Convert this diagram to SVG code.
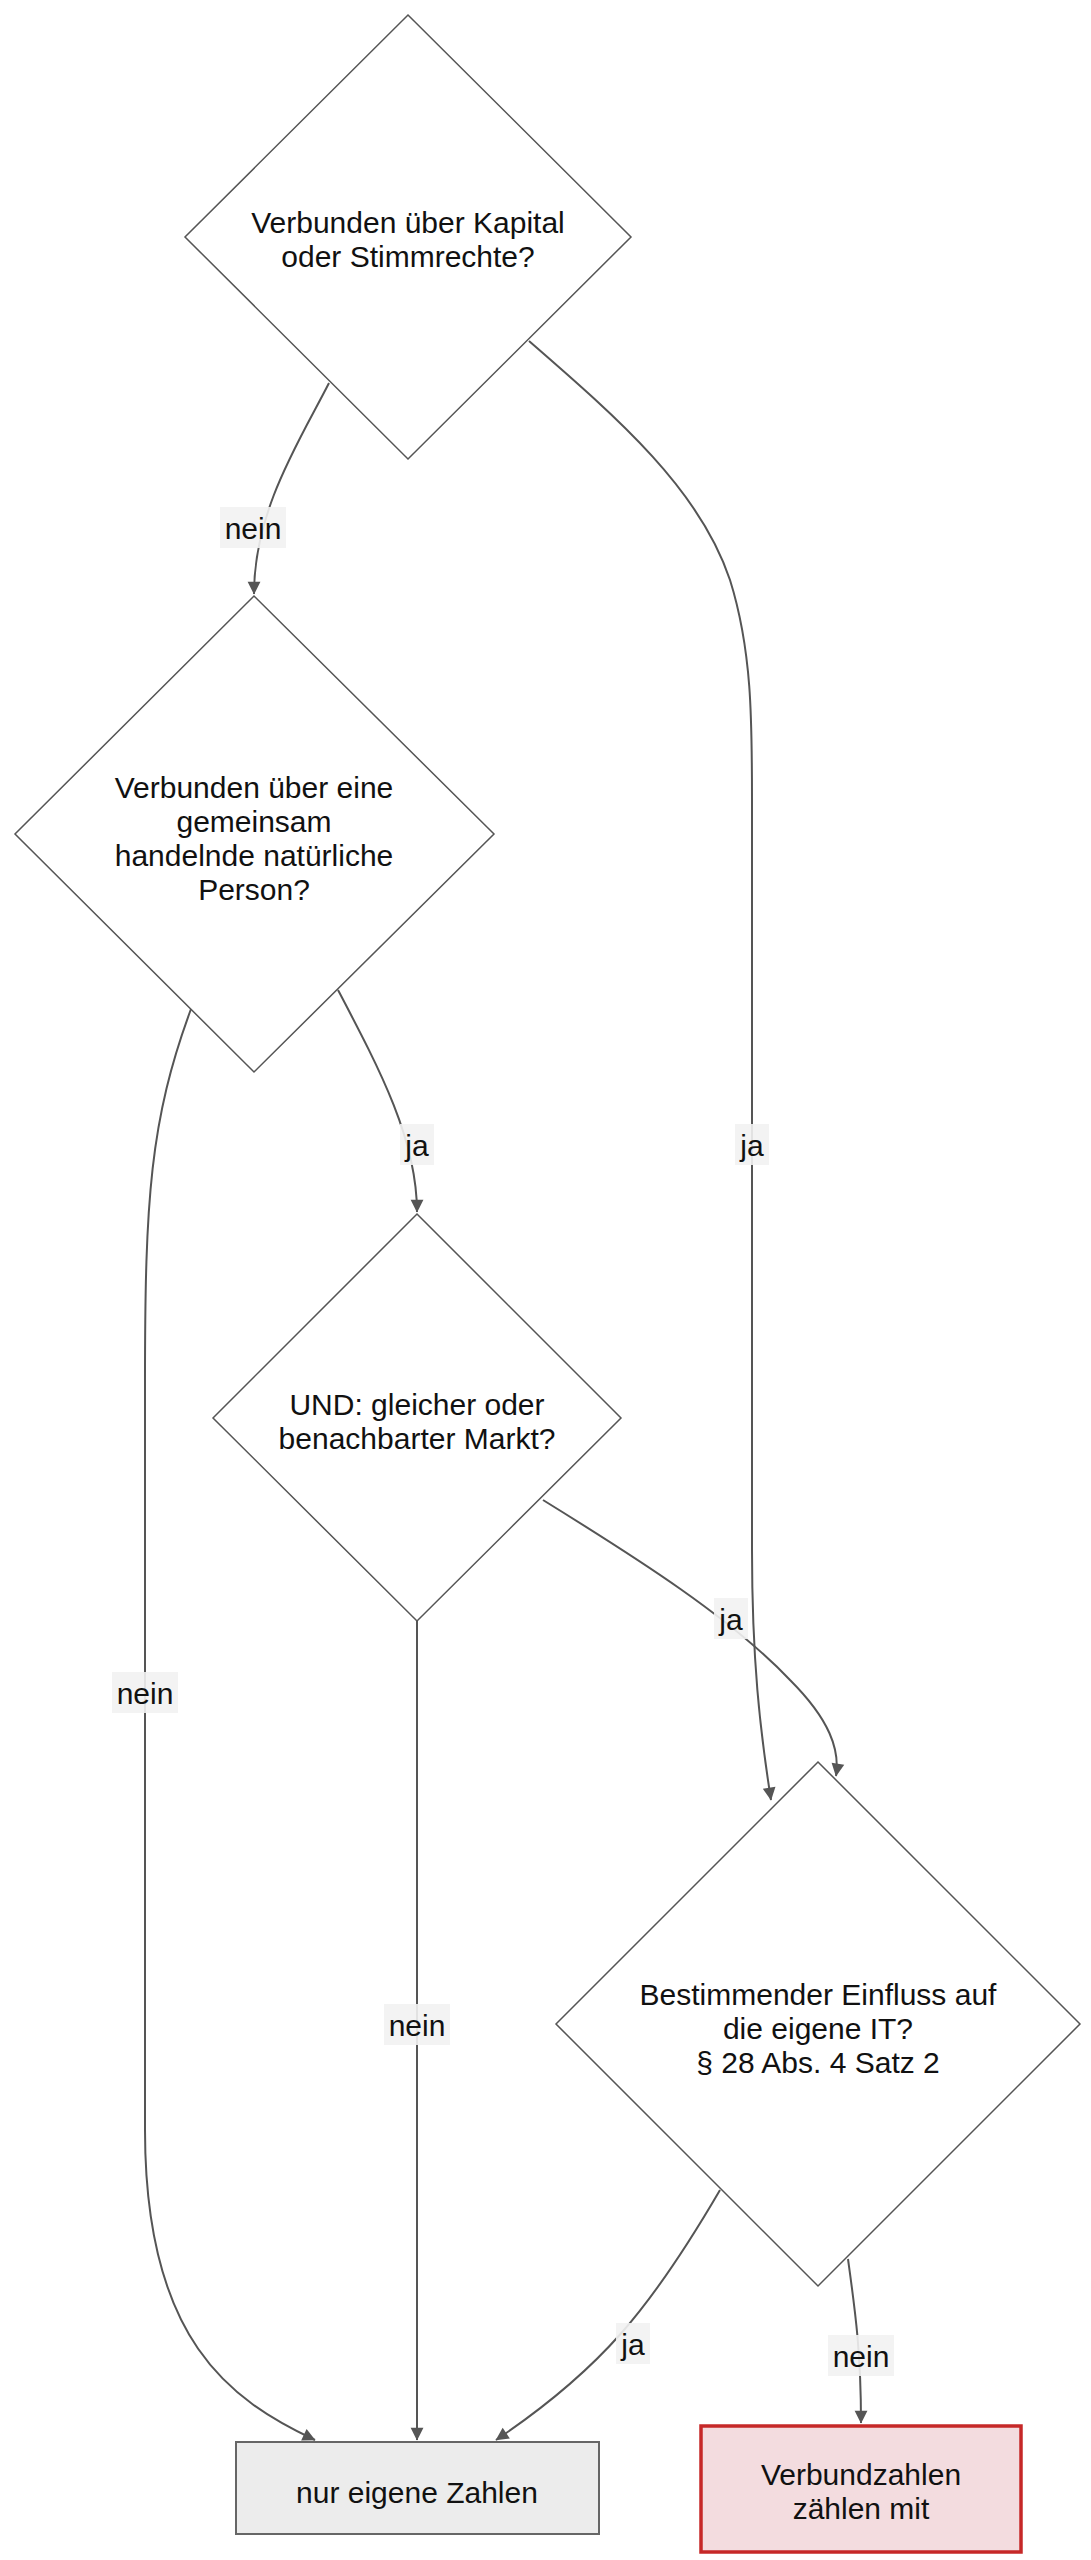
<svg xmlns="http://www.w3.org/2000/svg" width="1091" height="2560" viewBox="0 0 1091 2560">
<style>
text{font-family:"Liberation Sans",Arial,sans-serif;font-size:30px;fill:#111;text-anchor:middle;dominant-baseline:central}
.d{fill:#fff;stroke:#555;stroke-width:1.5}
.e{fill:none;stroke:#555;stroke-width:2;marker-end:url(#a)}
.lb{fill:#f2f2f2;opacity:.9}
</style>
<defs><marker id="a" viewBox="0 0 10 10" refX="9" refY="5" markerWidth="8" markerHeight="8" orient="auto" markerUnits="userSpaceOnUse" style="overflow:visible"><path d="M0,0L10,5L0,10z" fill="#555" transform="scale(1.6) translate(-4,-1.9)"/></marker></defs>
<rect width="1091" height="2560" fill="#fff"/>
<g id="edges">
<path class="e" d="M329,383 C300,440 254,510 254,594"/>
<path class="e" d="M529,341 C620,420 700,490 730,580 C752,650 752,720 752,800 L752,1550 C752,1660 760,1730 771,1800"/>
<path class="e" d="M338,990 C380,1070 417,1140 417,1212"/>
<path class="e" d="M191,1009 C150,1120 145,1200 145,1380 L145,2130 C145,2340 230,2400 315,2440"/>
<path class="e" d="M417,1621 L417,2440"/>
<path class="e" d="M543,1500 C640,1560 731,1618 790,1680 C830,1720 840,1750 836,1776"/>
<path class="e" d="M720,2190 C650,2310 600,2370 496,2440"/>
<path class="e" d="M848,2259 C855,2310 861,2350 861,2423"/>
</g>
<g id="labels">
<rect class="lb" x="220" y="507" width="66" height="41"/><text x="253" y="528">nein</text>
<rect class="lb" x="400" y="1124" width="34" height="41"/><text x="417" y="1145">ja</text>
<rect class="lb" x="735" y="1124" width="34" height="41"/><text x="752" y="1145">ja</text>
<rect class="lb" x="714" y="1598" width="34" height="41"/><text x="731" y="1619">ja</text>
<rect class="lb" x="112" y="1672" width="66" height="41"/><text x="145" y="1693">nein</text>
<rect class="lb" x="384" y="2004" width="66" height="41"/><text x="417" y="2025">nein</text>
<rect class="lb" x="616" y="2323" width="34" height="41"/><text x="633" y="2344">ja</text>
<rect class="lb" x="828" y="2335" width="66" height="41"/><text x="861" y="2356">nein</text>
</g>
<g id="n1"><path class="d" d="M408,15 L631,237 L408,459 L185,237Z"/><text x="408" y="222">Verbunden über Kapital</text><text x="408" y="256">oder Stimmrechte?</text></g>
<g id="n2"><path class="d" d="M254,596 L494,834 L254,1072 L15,834Z"/><text x="254" y="787">Verbunden über eine</text><text x="254" y="821">gemeinsam</text><text x="254" y="855">handelnde natürliche</text><text x="254" y="889">Person?</text></g>
<g id="n3"><path class="d" d="M417,1214 L621,1418 L417,1621 L213,1418Z"/><text x="417" y="1404">UND: gleicher oder</text><text x="417" y="1438">benachbarter Markt?</text></g>
<g id="n4"><path class="d" d="M818,1762 L1080,2024 L818,2286 L556,2024Z"/><text x="818" y="1994">Bestimmender Einfluss auf</text><text x="818" y="2028">die eigene IT?</text><text x="818" y="2062">§ 28 Abs. 4 Satz 2</text></g>
<g id="n5"><rect x="236" y="2442" width="363" height="92" fill="#ececec" stroke="#666" stroke-width="2"/><text x="417" y="2492">nur eigene Zahlen</text></g>
<g id="n6"><rect x="701" y="2426" width="320" height="126" fill="#f3dcdf" stroke="#c62828" stroke-width="3.5"/><text x="861" y="2474">Verbundzahlen</text><text x="861" y="2508">zählen mit</text></g>
</svg>
